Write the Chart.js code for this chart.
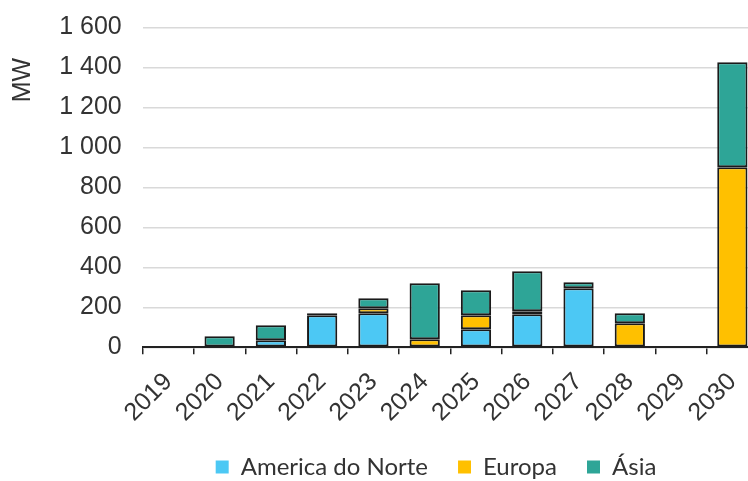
<!DOCTYPE html>
<html>
<head>
<meta charset="utf-8">
<script src="https://cdn.jsdelivr.net/npm/chart.js@4/dist/chart.umd.min.js"></script>
<style>
  html, body { margin: 0; padding: 0; background: #fff; overflow: hidden; }
  #wrap { width: 872px; height: 481px; }
</style>
</head>
<body>
<div id="wrap"><canvas id="c" width="872" height="481"></canvas></div>
<script>
const categories = ['2019','2020','2021','2022','2023','2024','2025','2026','2027','2028','2029','2030'];
const americaDoNorte = [0, 0, 35, 160, 170, 0, 90, 165, 295, 0, 0, 0];
const europa         = [0, 0, 0, 0, 25, 40, 70, 15, 0, 120, 0, 900];
const asia           = [0, 55, 75, 10, 50, 280, 125, 200, 30, 50, 0, 525];
const seriesNames = ['America do Norte', 'Europa', 'Ásia'];
const yAxisTitle = 'MW';
const yMin = 0, yMax = 1600, yStep = 200;

const TEXT = '#333333';
const AXIS_FONT = '"Liberation Sans", Arial, sans-serif';

function fmt(v) { return String(v).replace(/\B(?=(\d{3})+(?!\d))/g, ' '); }
function nz(arr) { return arr.map(v => v === 0 ? null : v); }

const mwTitle = {
  id: 'mwTitle',
  afterDraw(chart) {
    const ctx = chart.ctx;
    ctx.save();
    ctx.translate(23, 80);
    ctx.rotate(-Math.PI / 2);
    ctx.font = '25px ' + AXIS_FONT;
    ctx.fillStyle = TEXT;
    ctx.textAlign = 'center';
    ctx.textBaseline = 'middle';
    ctx.fillText(yAxisTitle, 0, 0);
    ctx.restore();
  }
};

const barBase = { borderColor: '#1a1a1a', borderWidth: 2, borderSkipped: false, categoryPercentage: 1, barPercentage: 0.59 };

new Chart(document.getElementById('c'), {
  type: 'bar',
  data: {
    labels: categories,
    datasets: [
      Object.assign({ label: seriesNames[0], data: nz(americaDoNorte), backgroundColor: '#4CC8F4' }, barBase),
      Object.assign({ label: seriesNames[1], data: nz(europa), backgroundColor: '#FFC000' }, barBase),
      Object.assign({ label: seriesNames[2], data: nz(asia), backgroundColor: '#2EA597' }, barBase)
    ]
  },
  options: {
    responsive: false,
    animation: false,
    layout: { padding: { left: 0, right: 0, top: 27.3, bottom: -8 } },
    plugins: {
      tooltip: { enabled: false },
      legend: {
        position: 'bottom',
        labels: {
          font: { family: 'Lato', size: 24 },
          color: TEXT,
          boxWidth: 13,
          boxHeight: 13,
          padding: 30,
          generateLabels(chart) {
            const items = Chart.defaults.plugins.legend.labels.generateLabels(chart);
            items.forEach(it => { it.lineWidth = 0; it.strokeStyle = 'transparent'; });
            return items;
          }
        }
      }
    },
    scales: {
      x: {
        stacked: true,
        afterFit(scale) { scale.height = 77.7; },
        grid: { display: true, drawOnChartArea: false, drawTicks: true, tickLength: 7, color: '#222', lineWidth: 1.5, offset: true },
        border: { display: true, color: '#222', width: 2 },
        ticks: { font: { family: AXIS_FONT, size: 25 }, color: TEXT, minRotation: 45, maxRotation: 45, autoSkip: false, padding: 13 }
      },
      y: {
        stacked: true,
        min: yMin, max: yMax,
        afterFit(scale) { scale.width = 142.7; scale.paddingTop = 0; scale.paddingBottom = 0; },
        grid: { color: '#d9d9d9', lineWidth: 1.5, drawTicks: false },
        border: { display: false },
        ticks: { stepSize: yStep, font: { family: AXIS_FONT, size: 25 }, color: TEXT, padding: 21, callback: v => fmt(v) }
      },
      spacer: {
        type: 'linear',
        position: 'right',
        afterFit(scale) { scale.width = 114; scale.paddingTop = 0; scale.paddingBottom = 0; },
        grid: { display: false, drawTicks: false },
        border: { display: false },
        ticks: { display: false }
      }
    }
  },
  plugins: [mwTitle]
});
</script>
</body>
</html>
